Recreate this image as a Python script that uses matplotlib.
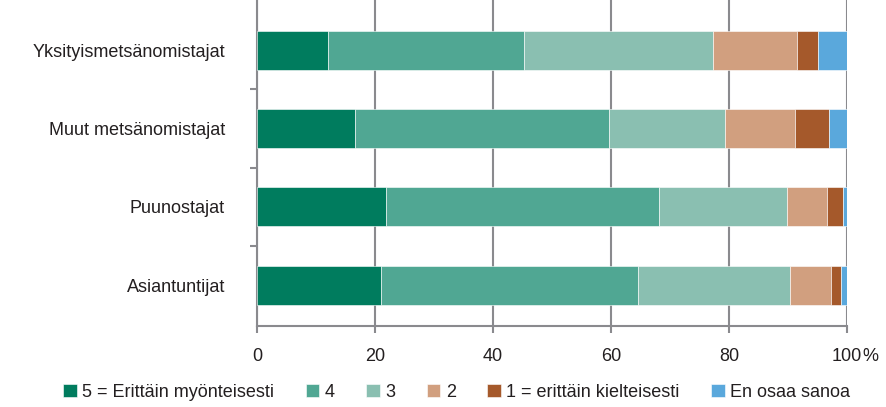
import numpy as np
import matplotlib.pyplot as plt

plt.rcParams['font.family'] = ['Liberation Sans', 'DejaVu Sans']
plt.rcParams['font.size'] = 13

categories = ['Yksityismetsänomistajat', 'Muut metsänomistajat', 'Puunostajat', 'Asiantuntijat']
labels = ['5 = Erittäin myönteisesti', '4', '3', '2', '1 = erittäin kielteisesti', 'En osaa sanoa']
colors = ['#007c5e', '#50a793', '#8abfb1', '#d19f7f', '#a5592b', '#5aa8dc']

v5 = [12.0, 16.6, 21.8, 21.1]
v4 = [33.2, 43.1, 46.3, 43.4]
v3 = [32.1, 19.7, 21.8, 25.8]
v2 = [14.3, 11.8, 6.7, 7.0]
v1 = [3.5, 5.8, 2.8, 1.7]
veos = [4.9, 3.0, 0.6, 1.0]
series = [v5, v4, v3, v2, v1, veos]

grid_c = '#8a8a8e'
text_c = '#231f20'

fig = plt.figure(figsize=(8.87, 4.07), dpi=100)
ax = fig.add_axes([257 / 887, 1 - 326 / 407, 590 / 887, 326 / 407])

y = np.arange(len(categories))[::-1]
left = np.zeros(len(categories))
for vals, lab, col in zip(series, labels, colors):
    ax.barh(y, vals, left=left, height=0.5, color=col, label=lab,
            edgecolor='white', linewidth=0.4, zorder=3)
    left += np.array(vals)

ax.set_xlim(0, 100)
ax.set_ylim(-0.52, 3.64)
ax.set_xticks([0, 20, 40, 60, 80, 100])
ax.set_xticklabels(['0', '20', '40', '60', '80', '100'])
ax.set_yticks(y)
ax.set_yticklabels(categories)
ax.set_yticks([0.5, 1.5, 2.5], minor=True)
ax.tick_params(axis='y', which='major', length=0, pad=23, labelcolor=text_c, labelsize=13)
ax.tick_params(axis='y', which='minor', length=5, width=1.5, color=grid_c)
ax.tick_params(axis='x', length=5, width=1.5, color=grid_c, pad=11, labelcolor=text_c, labelsize=13)
ax.annotate('%', xy=(100, 0), xycoords=('data', 'axes fraction'), xytext=(11, -16),
            textcoords='offset points', ha='left', va='top', fontsize=13, color=text_c)

ax.grid(axis='x', color=grid_c, linewidth=1.5, zorder=0)
for s in ['top', 'right']:
    ax.spines[s].set_visible(False)
for s in ['left', 'bottom']:
    ax.spines[s].set_color(grid_c)
    ax.spines[s].set_linewidth(1.5)

fig.legend(loc='lower left', bbox_to_anchor=(47 / 887, -0.025), ncol=6, frameon=False,
           handlelength=0.75, handleheight=0.75, handletextpad=0.3, columnspacing=1.75,
           fontsize=13, labelcolor=text_c)

fig.savefig('out.png', dpi=100)
